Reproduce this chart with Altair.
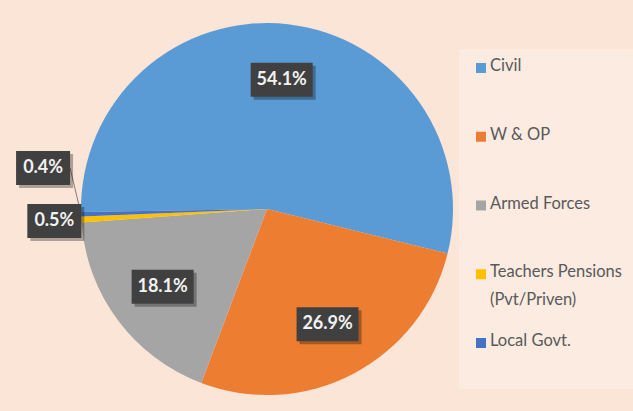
import math
import altair as alt
import pandas as pd

# ---- data ----
categories = ["Civil", "W & OP", "Armed Forces", "Teachers Pensions (Pvt/Priven)", "Local Govt."]
legend_labels = ["Civil", "W & OP", "Armed Forces", "Teachers Pensions\n(Pvt/Priven)", "Local Govt."]
shares = [54.1, 26.9, 18.1, 0.5, 0.4]
colors = ["#5B9BD5", "#ED7D31", "#A5A5A5", "#FFC000", "#4472C4"]

df = pd.DataFrame({
    "idx": list(range(len(categories))),
    "category": categories,
    "legend_label": legend_labels,
    "share": shares,
})

# ---- layout constants ----
W, H = 633, 411
CX, CY, R = 267, 209, 186
A0 = math.radians(-90.9)
FONT = "Lato, sans-serif"

color_scale = alt.Scale(domain=categories, range=colors)

# legend background panel
panel = alt.Chart(alt.Data(values=[{}])).mark_rect(color="#FBEBE1").encode(
    x=alt.value(459), x2=alt.value(W), y=alt.value(49), y2=alt.value(389)
)

pie = alt.Chart(df).mark_arc(outerRadius=R, stroke=None).encode(
    theta=alt.Theta("share:Q", stack=True,
                    scale=alt.Scale(domain=[0, 100], range=[A0, A0 + 2 * math.pi])),
    color=alt.Color("category:N", scale=color_scale, legend=None),
    order=alt.Order("idx:Q"),
    x=alt.value(CX),
    y=alt.value(CY),
)

labels_base = alt.Chart(df).transform_window(
    cum="sum(share)", sort=[alt.SortField("idx")], frame=[None, 0]
).transform_calculate(
    mid=f"(datum.cum - datum.share / 2) / 100 * 2 * PI + ({A0})",
    lab="format(datum.share, '.1f') + '%'",
    small="datum.share < 1 ? 1 : 0",
).transform_calculate(
    r=f"datum.small ? {R + 27} : {R * 0.7}",
    lead=f"datum.category == 'Local Govt.' ? 1 : 0",
).transform_calculate(
    lx=f"{CX} + datum.r * sin(datum.mid) - (datum.lead ? 11 : 0)",
    ly=f"{CY} - datum.r * cos(datum.mid) - (datum.lead ? 47 : 0)",
    ex=f"{CX} + {R} * sin(datum.mid)",
    ey=f"{CY} - {R} * cos(datum.mid)",
    bw="8 * length(datum.lab) + 22",
).transform_calculate(
    bx0="datum.lx - datum.bw / 2",
    bx1="datum.lx + datum.bw / 2",
    by0="datum.ly - 17",
    by1="datum.ly + 17",
    sx0="datum.lx - datum.bw / 2 + 3",
    sx1="datum.lx + datum.bw / 2 + 3",
    sy0="datum.ly - 14",
    sy1="datum.ly + 20",
)

leader = labels_base.transform_filter("datum.lead == 1").mark_rule(
    color="#7F7F7F", strokeWidth=1
).encode(
    x=alt.X("bx1:Q", scale=None, axis=None),
    y=alt.Y("ly:Q", scale=None, axis=None),
    x2="ex:Q",
    y2="ey:Q",
)

shadow = labels_base.mark_rect(color="#000000", opacity=0.3).encode(
    x=alt.X("sx0:Q", scale=None, axis=None),
    x2="sx1:Q",
    y=alt.Y("sy0:Q", scale=None, axis=None),
    y2="sy1:Q",
)

boxes = labels_base.mark_rect(color="#404040").encode(
    x=alt.X("bx0:Q", scale=None, axis=None),
    x2="bx1:Q",
    y=alt.Y("by0:Q", scale=None, axis=None),
    y2="by1:Q",
)

texts = labels_base.mark_text(
    font=FONT, fontSize=18, fontWeight="bold", color="#F2F2F2",
    align="center", baseline="middle",
).encode(
    x=alt.X("lx:Q", scale=None, axis=None),
    y=alt.Y("ly:Q", scale=None, axis=None),
    text="lab:N",
)

legend_base = alt.Chart(df).transform_calculate(
    ly="68 + datum.idx * 68.75"
)

leg_sym = legend_base.mark_square(size=100, opacity=1).encode(
    x=alt.value(481),
    y=alt.Y("ly:Q", scale=None, axis=None),
    color=alt.Color("category:N", scale=color_scale, legend=None),
)

leg_txt = legend_base.mark_text(
    font=FONT, fontSize=16.5, color="#595959", align="left", baseline="top",
    dy=-10, lineBreak="\n", lineHeight=28,
).encode(
    x=alt.value(490),
    y=alt.Y("ly:Q", scale=None, axis=None),
    text="legend_label:N",
)

chart = alt.layer(
    panel, pie, leader, shadow, boxes, texts, leg_sym, leg_txt
).properties(
    width=W, height=H, padding=0, background="#FBE5D6",
    autosize=alt.AutoSizeParams(type="none"),
).configure_view(stroke=None)

chart.save("out.html", embed_options={"renderer": "svg", "actions": False})
